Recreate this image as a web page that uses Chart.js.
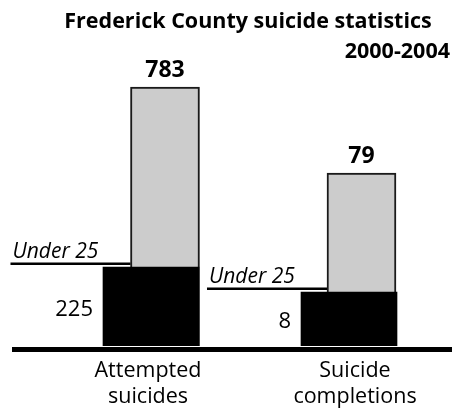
<!DOCTYPE html>
<html>
<head>
<meta charset="utf-8">
<script src="https://cdn.jsdelivr.net/npm/chart.js@4"></script>
<style>
  body { margin: 0; background: #fff; }
  #wrap { width: 452px; height: 410px; }
</style>
</head>
<body>
<div id="wrap"><canvas id="chart"></canvas></div>
<script>
// Chart data (the source graphic is not drawn to scale, so log axes are used)
const categories = [['Attempted', 'suicides'], ['Suicide', 'completions']];
const totals = [783, 79];
const under25 = [225, 8];
const subLabel = 'Under 25';
const titleLines = ['Frederick County suicide statistics', '2000-2004'];

const FONT = '"Open Sans", Lato, sans-serif';

// Draws title, value labels, the "Under 25" rules and the base line
const annotate = {
  id: 'annotate',
  afterDatasetsDraw(chart) {
    const ctx = chart.ctx;
    const area = chart.chartArea;
    const grey = chart.getDatasetMeta(0).data;
    const black = chart.getDatasetMeta(1).data;
    ctx.save();
    ctx.fillStyle = '#000';

    // base line
    ctx.fillRect(area.left, area.bottom + 1, area.right - area.left, 5);

    // title
    ctx.font = 'bold 21.5px ' + FONT;
    ctx.textAlign = 'center';
    ctx.textBaseline = 'alphabetic';
    ctx.fillText(titleLines[0], 248, 28);
    ctx.textAlign = 'right';
    ctx.fillText(titleLines[1], 450, 58);

    grey.forEach((g, i) => {
      const b = black[i];
      const gLeft = g.x - g.width / 2;
      const bLeft = b.x - b.width / 2;

      // total on top of the grey bar
      ctx.font = 'bold 23px ' + FONT;
      ctx.textAlign = 'center';
      ctx.textBaseline = 'alphabetic';
      ctx.fillText(totals[i], g.x, g.y - 10);

      // "Under 25" rule
      const lineStart = gLeft - 120;
      ctx.fillRect(lineStart, b.y - 4.5, gLeft - lineStart, 2.5);
      ctx.font = 'italic 21px ' + FONT;
      ctx.textAlign = 'left';
      ctx.fillText(subLabel, lineStart + 2, b.y - 9);

      // under 25 value
      ctx.font = '22px ' + FONT;
      ctx.textAlign = 'right';
      ctx.textBaseline = 'middle';
      ctx.fillText(under25[i], bLeft - 10, (b.y + b.base) / 2 + 3);
    });
    ctx.restore();
  }
};

new Chart(document.getElementById('chart'), {
  type: 'bar',
  data: {
    datasets: [
      {
        label: 'Total',
        data: totals.map((v, i) => ({ x: i, y: v })),
        xAxisID: 'x',
        yAxisID: 'y',
        backgroundColor: '#cccccc',
        borderColor: '#1a1a1a',
        borderWidth: 2,
        barThickness: 69,
        grouped: false,
        order: 2
      },
      {
        label: subLabel,
        data: under25.map((v, i) => ({ x: i, y: v })),
        xAxisID: 'x2',
        yAxisID: 'y2',
        backgroundColor: '#000000',
        borderWidth: 0,
        barThickness: 96,
        grouped: false,
        order: 1
      }
    ]
  },
  options: {
    responsive: true,
    maintainAspectRatio: false,
    animation: false,
    layout: { padding: { top: 60, left: 12, right: 0, bottom: 0 } },
    plugins: {
      legend: { display: false },
      tooltip: { enabled: false }
    },
    scales: {
      x: { type: 'linear', display: false, offset: false, bounds: 'data', min: -0.7786, max: 1.4606 },
      x2: { type: 'linear', display: false, offset: false, bounds: 'data', min: -0.702, max: 1.5202 },
      x3: {
        type: 'linear',
        position: 'bottom',
        offset: false,
        bounds: 'data',
        min: -0.657,
        max: 1.4686,
        grid: { display: false, drawTicks: false, offset: false },
        border: { display: false },
        afterBuildTicks: (scale) => {
          scale.ticks = categories.map((c, i) => ({ value: i }));
        },
        afterFit: (scale) => { scale.height = 64; },
        ticks: {
          padding: 11,
          color: '#000',
          font: { family: FONT, size: 21.5, lineHeight: 1.25 },
          maxRotation: 0,
          autoSkip: false,
          callback: (value, index) => categories[index]
        }
      },
      y: { type: 'logarithmic', display: false, min: 0.783, max: 1609 },
      y2: { type: 'logarithmic', display: false, min: 0.00592, max: 2.25e14 }
    }
  },
  plugins: [annotate]
});
</script>
</body>
</html>
